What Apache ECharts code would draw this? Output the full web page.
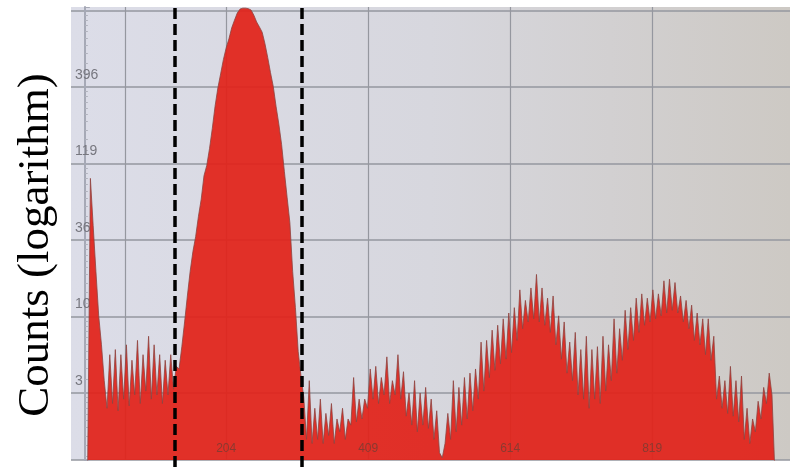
<!DOCTYPE html>
<html>
<head>
<meta charset="utf-8">
<script src="https://cdn.jsdelivr.net/npm/echarts@6/dist/echarts.min.js"></script>
<style>
html,body{margin:0;padding:0;background:#ffffff;}
#chart{width:792px;height:467px;}
</style>
</head>
<body>
<div id="chart"></div>
<script>
// ---- data ----
const yAxisTitle = 'Counts (logarithm)';
const firstChannel = 4;
const binWidth = 4;
const counts = [
  1, 94, 45, 22, 11, 7, 4, 2.6, 6, 2.8,
  6.5, 2.5, 6, 3, 7, 2.7, 5.5, 3.2, 7.5, 2.8,
  6, 3.4, 8, 3, 7, 3.2, 6, 2.8, 5.5, 3.2,
  6, 3.5, 5, 4.8, 6.8, 10, 15, 22, 30, 38,
  52, 68, 98, 115, 150, 205, 290, 385, 480, 600,
  720, 830, 985, 1110, 1240, 1320, 1340, 1340, 1330, 1300,
  1200, 1080, 1000, 920, 770, 620, 490, 395, 290, 220,
  160, 105, 70, 47, 22, 12.5, 6.3, 4.3, 3.1, 1.6,
  4, 1.5, 2.6, 1.6, 3, 1.5, 2.4, 1.7, 2.8, 1.5,
  2.2, 1.8, 2.6, 1.6, 2.2, 2, 4.2, 2.1, 3, 2.2,
  3, 2.6, 4.8, 3, 5, 2.8, 4.2, 3.2, 5.8, 2.8,
  4, 3.2, 6, 3, 4.6, 2.3, 3.3, 2, 4, 1.8,
  3.3, 2, 3.6, 1.9, 3, 1.6, 2.5, 1.3, 1.2, 1.5,
  2.4, 1.6, 4, 1.8, 3.6, 2, 4.2, 2.2, 4.5, 2.5,
  4.8, 3, 7.3, 3.4, 7.5, 4.2, 8.8, 4.7, 9.5, 5.2,
  10.5, 5.6, 11.5, 6.2, 12.5, 7.5, 16.5, 9, 14, 10,
  17, 10.5, 21, 10, 17, 9.5, 14.5, 8.5, 15, 7,
  11, 5.6, 10, 4.5, 7.3, 4, 8.5, 3.2, 6.5, 3,
  8, 2.6, 6.5, 3, 6.8, 2.8, 8, 3.4, 7, 4,
  10.5, 4.5, 9, 5.5, 12, 6.5, 12.5, 7.5, 14.5, 8.5,
  15.5, 9.5, 14.5, 10, 16.5, 10.5, 15.5, 11, 19, 11.5,
  19.5, 12, 18.5, 11.5, 15, 10, 14, 9, 13, 7.5,
  11.5, 7, 10.5, 6, 10.5, 5.5, 8, 3, 4.3, 2.6,
  4, 2.4, 5, 2.3, 4, 2.1, 4.3, 1.6, 2.6, 1.5,
  2.2, 1.8, 2.9, 2.2, 3.6, 2.8, 4.5, 3.2, 1
];
const xTickLabels = [204, 409, 614, 819];
const xGridValues = [58, 204, 409, 614, 819];
const yTickLabels = ['3', '10', '36', '119', '396'];
const windowChannels = [130, 313];

// ---- chart ----
const logBase = 3.3;
const seriesData = counts.map((c, i) => [firstChannel + i * binWidth, c]);

const chart = echarts.init(document.getElementById('chart'), null, { renderer: 'canvas' });
chart.setOption({
  animation: false,
  backgroundColor: '#ffffff',
  graphic: [{
    type: 'text',
    x: 36,
    y: 245,
    rotation: Math.PI / 2,
    style: {
      text: yAxisTitle,
      font: '45px "Liberation Serif"',
      fill: '#000000',
      align: 'center',
      verticalAlign: 'middle',
      textAlign: 'center',
      textVerticalAlign: 'middle'
    },
    z: 20
  }],
  grid: [
    {
      left: 71, right: 2, top: 7, bottom: 7,
      show: true, borderWidth: 0,
      backgroundColor: {
        type: 'linear', x: 0, y: 0, x2: 1, y2: 0,
        colorStops: [
          { offset: 0, color: '#dcdde8' },
          { offset: 0.5, color: '#d7d7de' },
          { offset: 1, color: '#cdc9c4' }
        ]
      }
    },
    { left: 71, right: 2, top: 7, bottom: 0 }
  ],
  xAxis: [
    {
      type: 'value', gridIndex: 0, min: -20, max: 1018, position: 'bottom',
      axisLine: { show: false },
      axisTick: { show: false, customValues: xGridValues },
      splitLine: { show: true, lineStyle: { color: '#95979f', width: 1.2 } },
      axisLabel: { show: false }
    },
    { type: 'value', gridIndex: 1, min: -20, max: 1018, show: false },
    {
      type: 'value', gridIndex: 0, min: -20, max: 1018, position: 'bottom', z: 4,
      axisLine: { show: false },
      axisTick: { show: false },
      splitLine: { show: false },
      axisLabel: {
        inside: true, customValues: xTickLabels, margin: 5,
        color: '#8a3a30', fontSize: 12, fontFamily: 'Liberation Sans'
      }
    }
  ],
  yAxis: [
    {
      type: 'log', logBase: logBase, gridIndex: 0,
      min: Math.pow(logBase, 0.124), max: Math.pow(logBase, 6.046),
      axisLine: { show: true, lineStyle: { color: '#a6a9b6', width: 2 } },
      axisTick: { show: true, inside: true, length: 5, lineStyle: { color: '#a6a9b6' } },
      minorTick: { show: true, splitNumber: 10, length: 3, lineStyle: { color: '#b0b2bd' } },
      splitLine: { show: true, showMaxLine: false, lineStyle: { color: '#95979f', width: 1.5 } },
      axisLabel: {
        inside: true, margin: 4, verticalAlign: 'bottom', padding: [0, 0, 5, 0],
        color: '#77777f', fontSize: 14, fontFamily: 'Liberation Sans',
        formatter: function (v) {
          const k = Math.round(Math.log(v) / Math.log(logBase));
          return yTickLabels[k - 1] || '';
        }
      }
    },
    { type: 'value', gridIndex: 1, min: 0, max: 1, show: false }
  ],
  series: [
    {
      type: 'line', xAxisIndex: 0, yAxisIndex: 0,
      data: seriesData, symbol: 'none', silent: true,
      lineStyle: { color: '#8e4440', width: 0.8 },
      areaStyle: { color: '#e1221a', opacity: 0.93 },
      z: 2
    },
    {
      type: 'line', xAxisIndex: 1, yAxisIndex: 1, data: [], z: 5,
      markLine: {
        silent: true, symbol: ['none', 'none'],
        label: { show: false },
        lineStyle: { color: '#000000', type: [11, 5], width: 3.5 },
        data: windowChannels.map(v => ({ xAxis: v }))
      }
    }
  ]
});
</script>
</body>
</html>
